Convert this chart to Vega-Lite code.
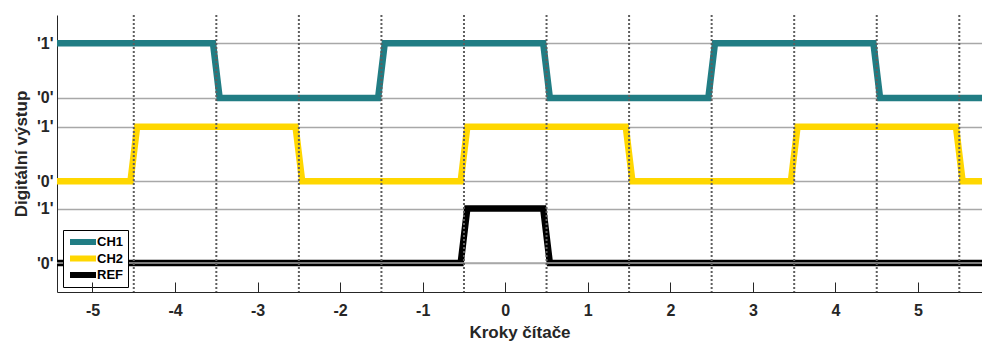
{
  "$schema": "https://vega.github.io/schema/vega-lite/v6.json",
  "width": 925,
  "height": 277,
  "autosize": {"type": "none"},
  "padding": {"left": 57, "top": 15, "right": 0, "bottom": 50},
  "background": "white",
  "config": {
    "view": {"stroke": null},
    "font": "Liberation Sans"
  },
  "datasets": {
    "signals": [
      {"series": "CH1", "t": -5.6, "v": 4.03},
      {"series": "CH1", "t": -3.54, "v": 4.03},
      {"series": "CH1", "t": -3.46, "v": 3.03},
      {"series": "CH1", "t": -1.54, "v": 3.03},
      {"series": "CH1", "t": -1.46, "v": 4.03},
      {"series": "CH1", "t": 0.46, "v": 4.03},
      {"series": "CH1", "t": 0.54, "v": 3.03},
      {"series": "CH1", "t": 2.46, "v": 3.03},
      {"series": "CH1", "t": 2.54, "v": 4.03},
      {"series": "CH1", "t": 4.46, "v": 4.03},
      {"series": "CH1", "t": 4.54, "v": 3.03},
      {"series": "CH1", "t": 5.9, "v": 3.03},
      {"series": "CH2", "t": -5.6, "v": 1.5},
      {"series": "CH2", "t": -4.54, "v": 1.5},
      {"series": "CH2", "t": -4.46, "v": 2.5},
      {"series": "CH2", "t": -2.54, "v": 2.5},
      {"series": "CH2", "t": -2.46, "v": 1.5},
      {"series": "CH2", "t": -0.54, "v": 1.5},
      {"series": "CH2", "t": -0.46, "v": 2.5},
      {"series": "CH2", "t": 1.46, "v": 2.5},
      {"series": "CH2", "t": 1.54, "v": 1.5},
      {"series": "CH2", "t": 3.46, "v": 1.5},
      {"series": "CH2", "t": 3.54, "v": 2.5},
      {"series": "CH2", "t": 5.46, "v": 2.5},
      {"series": "CH2", "t": 5.54, "v": 1.5},
      {"series": "CH2", "t": 5.9, "v": 1.5},
      {"series": "REF", "t": -5.6, "v": 0},
      {"series": "REF", "t": -0.54, "v": 0},
      {"series": "REF", "t": -0.46, "v": 1},
      {"series": "REF", "t": 0.46, "v": 1},
      {"series": "REF", "t": 0.54, "v": 0},
      {"series": "REF", "t": 5.9, "v": 0}
    ],
    "dots": [
      {"t": -4.5}, {"t": -3.5}, {"t": -2.5}, {"t": -1.5}, {"t": -0.5},
      {"t": 0.5}, {"t": 1.5}, {"t": 2.5}, {"t": 3.5}, {"t": 4.5}, {"t": 5.5}
    ],
    "baseline": [{"v": 0}]
  },
  "layer": [
    {
      "data": {"name": "signals"},
      "mark": {"type": "line", "strokeWidth": 6.5, "clip": true, "strokeJoin": "miter", "strokeCap": "butt"},
      "encoding": {
        "x": {
          "field": "t", "type": "quantitative",
          "scale": {"domain": [-5.43, 5.775], "nice": false, "zero": false},
          "axis": {
            "values": [-5, -4, -3, -2, -1, 0, 1, 2, 3, 4, 5],
            "labelExpr": "toString(datum.value)",
            "title": "Kroky čítače",
            "titleFont": "Liberation Sans", "titleFontSize": 17, "titleFontWeight": "bold", "titleColor": "#262626",
            "titlePadding": 6,
            "labelFont": "Liberation Sans", "labelFontSize": 16, "labelFontWeight": "bold", "labelColor": "#262626",
            "labelPadding": 20,
            "tickSize": -10, "tickColor": "#262626", "tickWidth": 1,
            "domainColor": "#262626", "domainWidth": 1,
            "grid": false, "labelFlush": false, "labelOverlap": false,
            "zindex": 1
          }
        },
        "y": {
          "field": "v", "type": "quantitative",
          "scale": {"domain": [-0.53, 4.55], "nice": false, "zero": false},
          "axis": {
            "values": [0, 1, 1.5, 2.5, 3.03, 4.03],
            "labelExpr": "(datum.value == 0 || datum.value == 1.5 || datum.value == 3.03) ? \"'0'\" : \"'1'\"",
            "title": "Digitální výstup",
            "titleFont": "Liberation Sans", "titleFontSize": 17, "titleFontWeight": "bold", "titleColor": "#262626",
            "titlePadding": 6,
            "labelFont": "Liberation Sans", "labelFontSize": 16, "labelFontWeight": "bold", "labelColor": "#262626",
            "labelPadding": 4,
            "ticks": false,
            "domainColor": "#262626", "domainWidth": 1,
            "grid": true, "gridColor": "#a8a8a8", "gridWidth": 1.5,
            "labelOverlap": false,
            "zindex": 0
          }
        },
        "color": {
          "field": "series", "type": "nominal",
          "scale": {"domain": ["CH1", "CH2", "REF"], "range": ["#217d84", "#ffd700", "#000000"]},
          "legend": {
            "title": null,
            "orient": "none",
            "legendX": 6,
            "legendY": 215,
            "fillColor": "white",
            "strokeColor": "#000000",
            "padding": 4,
            "symbolType": "M-2,0H2",
            "symbolSize": 169,
            "symbolStrokeWidth": 6,
            "symbolOffset": 6.5,
            "clipHeight": 16,
            "labelFont": "Liberation Sans",
            "labelFontSize": 13,
            "labelFontWeight": "bold",
            "labelColor": "#000000",
            "labelOffset": 4.5,
            "rowPadding": 0.5
          }
        },
        "detail": {"field": "series"},
        "order": {"field": "t", "type": "quantitative"}
      }
    },
    {
      "data": {"name": "baseline"},
      "mark": {"type": "rule", "color": "#a8a8a8", "strokeWidth": 1.5},
      "encoding": {
        "y": {"field": "v", "type": "quantitative"}
      }
    },
    {
      "data": {"name": "dots"},
      "mark": {"type": "rule", "color": "#5e5e5e", "strokeWidth": 2, "strokeDash": [2, 2]},
      "encoding": {
        "x": {"field": "t", "type": "quantitative"}
      }
    }
  ]
}
